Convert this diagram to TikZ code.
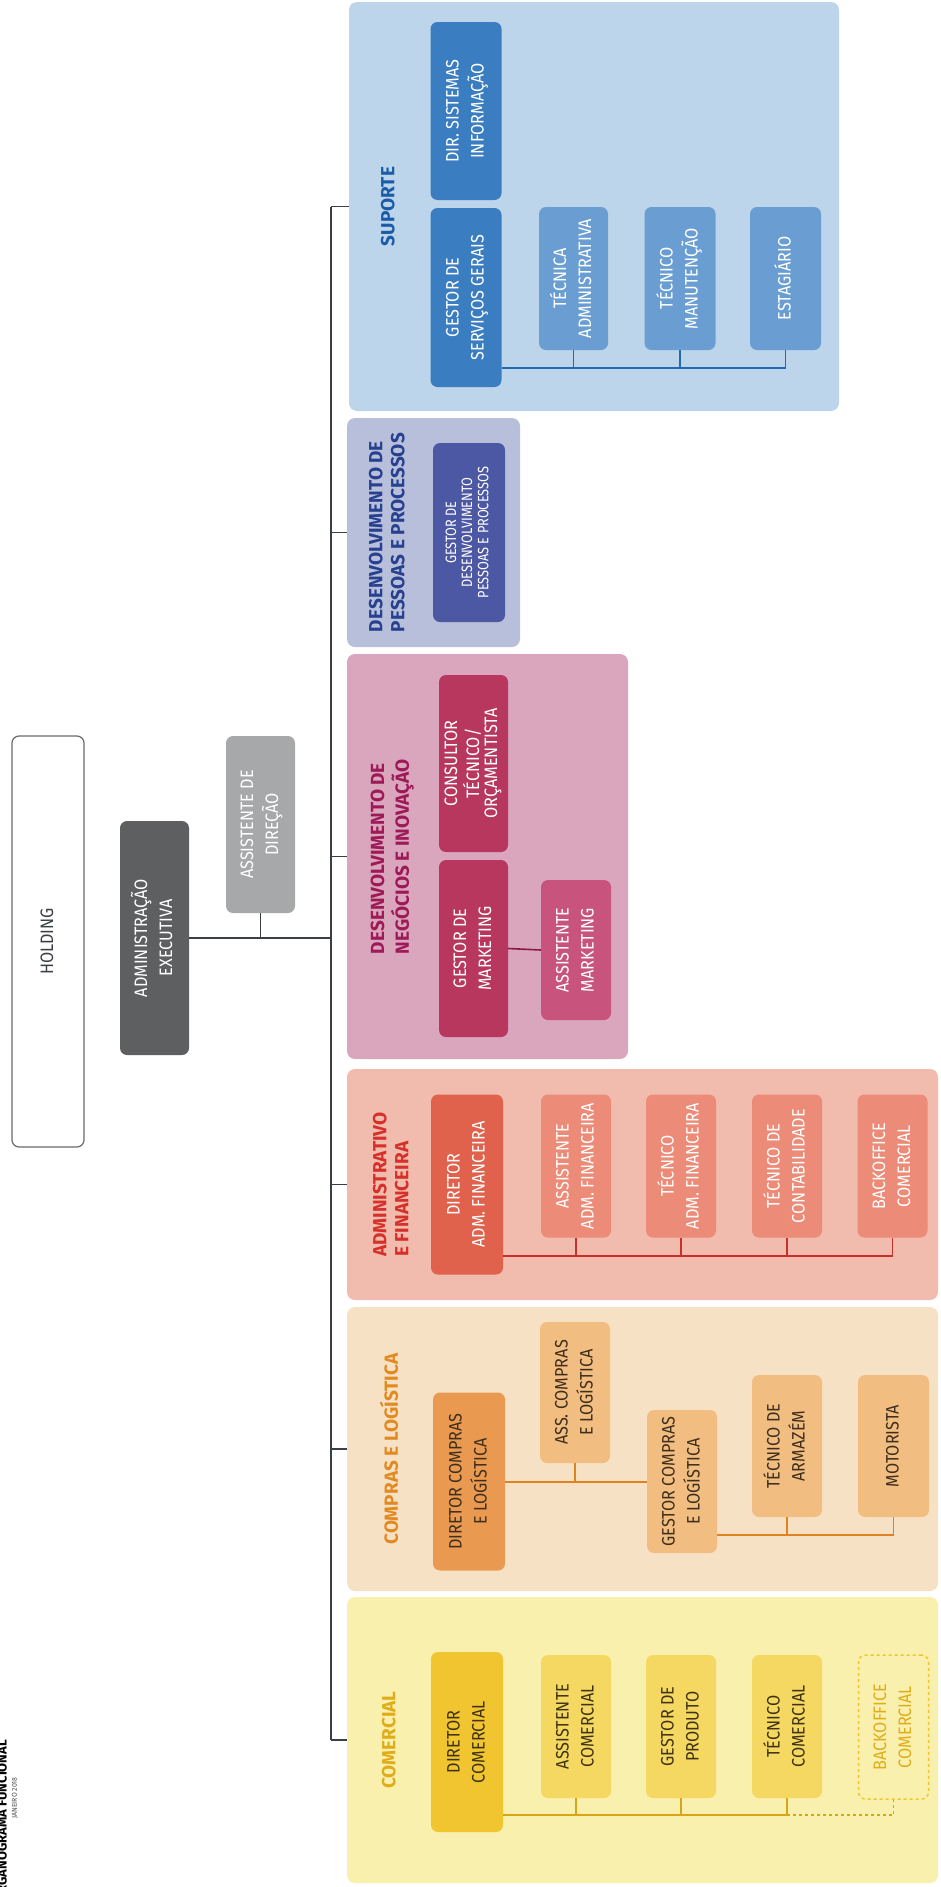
\documentclass[tikz,border=0pt]{standalone}
\usepackage{fontspec}
\setmainfont{Fira Sans}
\newfontfamily\bxf{Fira Sans}[FakeStretch=0.9]
\newfontfamily\bxc{Fira Sans}[FakeStretch=0.85]
\definecolor{supbg}{HTML}{BDD5EA}\definecolor{supdark}{HTML}{3A7DC1}\definecolor{suplight}{HTML}{6A9ED3}\definecolor{supttl}{HTML}{1B5CA8}\definecolor{supline}{HTML}{2468B4}
\definecolor{desbg}{HTML}{B8BFDA}\definecolor{desdark}{HTML}{4C58A4}\definecolor{desttl}{HTML}{27408F}
\definecolor{negbg}{HTML}{D9A6BE}\definecolor{negdark}{HTML}{B7375F}\definecolor{neglight}{HTML}{C8547D}\definecolor{negttl}{HTML}{9D1A56}\definecolor{negline}{HTML}{8E1844}
\definecolor{admbg}{HTML}{F1BBAD}\definecolor{admdark}{HTML}{E0624C}\definecolor{admlight}{HTML}{EC8B77}\definecolor{admttl}{HTML}{D6302A}\definecolor{admline}{HTML}{C9302C}
\definecolor{combg}{HTML}{F7E1C5}\definecolor{comdark}{HTML}{EA9A50}\definecolor{comlight}{HTML}{F2BD80}\definecolor{comttl}{HTML}{E28A22}\definecolor{comline}{HTML}{E08220}\definecolor{comtext}{HTML}{3E2E1C}
\definecolor{cmlbg}{HTML}{F9F0AE}\definecolor{cmldark}{HTML}{F1C530}\definecolor{cmllight}{HTML}{F5D862}\definecolor{cmlttl}{HTML}{E0AC1A}\definecolor{cmlline}{HTML}{D9A516}\definecolor{cmltext}{HTML}{3E3210}
\definecolor{trunkc}{HTML}{3A3E45}\definecolor{holdc}{HTML}{6A6A6A}\definecolor{execc}{HTML}{5E5F61}\definecolor{asdc}{HTML}{A6A8A9}
\newcommand\rt[1]{\rotatebox{90}{\renewcommand\arraystretch{1.25}\begin{tabular}{@{}c@{}}#1\end{tabular}}}
\newcommand\rtt[1]{\rotatebox{90}{\renewcommand\arraystretch{0.9}\begin{tabular}{@{}c@{}}#1\end{tabular}}}
\newcommand\rl[1]{\rotatebox{90}{\begin{tabular}{@{}l@{}}#1\end{tabular}}}
\begin{document}
\begin{tikzpicture}[x=1pt,y=-1pt,
  panel/.style={rounded corners=8pt, inner sep=0pt, draw=none},
  orgbox/.style={rounded corners=7pt, inner sep=0pt, draw=none, text=white, font=\bxf\fontsize{18}{20}\selectfont},
  ttl/.style={inner sep=0pt, font=\bfseries\fontsize{19}{22}\selectfont},
  trunk/.style={draw=trunkc, line width=1.6pt},
  bus/.style={line width=1.6pt}]
\useasboundingbox (0,0) rectangle (941,1887);
% panels
\node[panel, fill=supbg, minimum width=490pt, minimum height=409pt] (psup) at (594,206.5) {};
\node[panel, fill=desbg, minimum width=173pt, minimum height=229pt] (pdes) at (433.5,532.5) {};
\node[panel, fill=negbg, minimum width=281pt, minimum height=405pt] (pneg) at (487.5,856.5) {};
\node[panel, fill=admbg, minimum width=591pt, minimum height=231pt] (padm) at (642.5,1184.5) {};
\node[panel, fill=combg, minimum width=591pt, minimum height=284pt] (pcom) at (642.5,1449) {};
\node[panel, fill=cmlbg, minimum width=591pt, minimum height=286pt] (pcml) at (642.5,1740) {};
% titles
\node[ttl, text=supttl] (tsup) at (390,206.5) {\rl{SUPORTE}};
\node[ttl, text=desttl] (tdes) at (389,532.5) {\rl{DESENVOLVIMENTO DE\\PESSOAS E PROCESSOS}};
\node[ttl, text=negttl] (tneg) at (392,856.5) {\rl{DESENVOLVIMENTO DE\\NEGÓCIOS E INOVAÇÃO}};
\node[ttl, text=admttl] (tadm) at (393,1184.5) {\rl{ADMINISTRATIVO\\E FINANCEIRA}};
\node[ttl, text=comttl] (tcom) at (392,1449) {\rl{COMPRAS E LOGÍSTICA}};
\node[ttl, text=cmlttl] (tcml) at (391,1740) {\rl{COMERCIAL}};
% top
\node[orgbox, fill=white, draw=holdc, line width=1.2pt, text=trunkc, minimum width=72pt, minimum height=411pt] (hold) at (48,941.5) {\rt{HOLDING}};
\node[orgbox, fill=execc, minimum width=69pt, minimum height=234pt] (exec) at (154.5,938) {\rt{ADMINISTRAÇÃO\\EXECUTIVA}};
\node[orgbox, fill=asdc, minimum width=69pt, minimum height=177pt] (asd) at (260.5,824.5) {\rt{ASSISTENTE DE\\DIREÇÃO}};
% trunk
\coordinate (trtop) at (331,206.5);
\coordinate (trbot) at (331,1740);
\draw[trunk] (trtop) -- (trbot);
\foreach \p in {psup,pdes,pneg,padm,pcom,pcml} \draw[trunk] (\p.west) -- (\p.west -| trtop);
\draw[trunk] (exec.east) -- (exec.east -| trtop);
\draw[trunk] (asd.south) -- (asd.south |- exec.east);
% suporte
\node[orgbox, fill=supdark, minimum width=71pt, minimum height=178pt] (dsi) at (466,111) {\rt{DIR. SISTEMAS\\INFORMAÇÃO}};
\node[orgbox, fill=supdark, minimum width=71pt, minimum height=179pt] (gsg) at (466,297.5) {\rt{GESTOR DE\\SERVIÇOS GERAIS}};
\node[orgbox, fill=suplight, minimum width=69pt, minimum height=143pt] (tad) at (573.5,278.5) {\rt{TÉCNICA\\ADMINISTRATIVA}};
\node[orgbox, fill=suplight, minimum width=71pt, minimum height=143pt] (tma) at (680,278.5) {\rt{TÉCNICO\\MANUTENÇÃO}};
\node[orgbox, fill=suplight, minimum width=71pt, minimum height=143pt] (est) at (785.5,278.5) {\rt{ESTAGIÁRIO}};
\coordinate (sbus) at (785.5,368);
\draw[bus, draw=supline] (gsg.east |- sbus) -- (sbus) -- (est.south);
\foreach \b in {tad,tma} \draw[bus, draw=supline] (\b.south) -- (\b.south |- sbus);
% desenvolvimento pessoas
\node[orgbox, fill=desdark, font=\bxc\fontsize{15}{18}\selectfont, minimum width=72pt, minimum height=179pt] (gdp) at (469,532.5) {\rtt{GESTOR DE\\DESENVOLVIMENTO\\PESSOAS E PROCESSOS}};
% negocios
\node[orgbox, fill=negdark, minimum width=69pt, minimum height=177pt] (cto) at (473.5,763.5) {\rtt{CONSULTOR\\TÉCNICO/\\ORÇAMENTISTA}};
\node[orgbox, fill=negdark, minimum width=69pt, minimum height=177pt] (gmk) at (473.5,948.5) {\rt{GESTOR DE\\MARKETING}};
\node[orgbox, fill=neglight, minimum width=70pt, minimum height=140pt] (amk) at (576,950) {\rt{ASSISTENTE\\MARKETING}};
\draw[bus, draw=negline] (gmk.east) -- (amk.west);
% administrativo
\node[orgbox, fill=admdark, minimum width=72pt, minimum height=180pt] (dadm) at (467,1184.5) {\rt{DIRETOR\\ADM. FINANCEIRA}};
\node[orgbox, fill=admlight, minimum width=70pt, minimum height=143pt] (aadm) at (576,1166) {\rt{ASSISTENTE\\ADM. FINANCEIRA}};
\node[orgbox, fill=admlight, minimum width=70pt, minimum height=143pt] (tadf) at (681,1166) {\rt{TÉCNICO\\ADM. FINANCEIRA}};
\node[orgbox, fill=admlight, minimum width=70pt, minimum height=143pt] (tcon) at (787,1166) {\rt{TÉCNICO DE\\CONTABILIDADE}};
\node[orgbox, fill=admlight, minimum width=70pt, minimum height=143pt] (bof) at (892.5,1166) {\rt{BACKOFFICE\\COMERCIAL}};
\coordinate (abus) at (892.5,1256);
\draw[bus, draw=admline] (dadm.east |- abus) -- (abus) -- (bof.south);
\foreach \b in {aadm,tadf,tcon} \draw[bus, draw=admline] (\b.south) -- (\b.south |- abus);
% compras
\node[orgbox, fill=comdark, text=comtext, minimum width=72pt, minimum height=178pt] (dcl) at (469,1481.5) {\rt{DIRETOR COMPRAS\\E LOGÍSTICA}};
\node[orgbox, fill=comlight, text=comtext, minimum width=70pt, minimum height=141pt] (acl) at (575,1392.5) {\rt{ASS. COMPRAS\\E LOGÍSTICA}};
\node[orgbox, fill=comlight, text=comtext, minimum width=70pt, minimum height=143pt] (gcl) at (682,1481.5) {\rt{GESTOR COMPRAS\\E LOGÍSTICA}};
\node[orgbox, fill=comlight, text=comtext, minimum width=70pt, minimum height=142pt] (tar) at (787,1446) {\rt{TÉCNICO DE\\ARMAZÉM}};
\node[orgbox, fill=comlight, text=comtext, minimum width=71pt, minimum height=142pt] (mot) at (893.5,1446) {\rt{MOTORISTA}};
\coordinate (cb1) at (575,1482);
\coordinate (cb2) at (893.5,1535);
\draw[bus, draw=comline] (dcl.east |- cb1) -- (gcl.west |- cb1);
\draw[bus, draw=comline] (acl.south) -- (cb1);
\draw[bus, draw=comline] (gcl.east |- cb2) -- (cb2) -- (mot.south);
\draw[bus, draw=comline] (tar.south) -- (tar.south |- cb2);
% comercial
\node[orgbox, fill=cmldark, text=cmltext, minimum width=72pt, minimum height=180pt] (dcm) at (467,1742) {\rt{DIRETOR\\COMERCIAL}};
\node[orgbox, fill=cmllight, text=cmltext, minimum width=70pt, minimum height=143pt] (acm) at (576,1726.5) {\rt{ASSISTENTE\\COMERCIAL}};
\node[orgbox, fill=cmllight, text=cmltext, minimum width=70pt, minimum height=143pt] (gpr) at (681,1726.5) {\rt{GESTOR DE\\PRODUTO}};
\node[orgbox, fill=cmllight, text=cmltext, minimum width=70pt, minimum height=143pt] (tcm) at (787,1726.5) {\rt{TÉCNICO\\COMERCIAL}};
\node[orgbox, draw=cmldark, dashed, line width=1.5pt, text=cmlttl, minimum width=70pt, minimum height=144pt] (bcm) at (893.5,1727) {\rt{BACKOFFICE\\COMERCIAL}};
\coordinate (cbus) at (893.5,1815);
\draw[bus, draw=cmlline] (dcm.east |- cbus) -- (tcm.south |- cbus);
\foreach \b in {acm,gpr,tcm} \draw[bus, draw=cmlline] (\b.south) -- (\b.south |- cbus);
\draw[bus, draw=cmlline, dashed] (tcm.south |- cbus) -- (cbus) -- (bcm.south);
% caption
\node[inner sep=0pt, anchor=east, rotate=90, font=\bfseries\fontsize{13}{15}\selectfont, text=black] (cap) at (2,1740) {ORGANOGRAMA FUNCIONAL};
\node[inner sep=0pt, rotate=90, font=\fontsize{7}{8}\selectfont, text=black!70] (date) at (15,1798) {JANEIRO 2018};
\end{tikzpicture}
\end{document}
